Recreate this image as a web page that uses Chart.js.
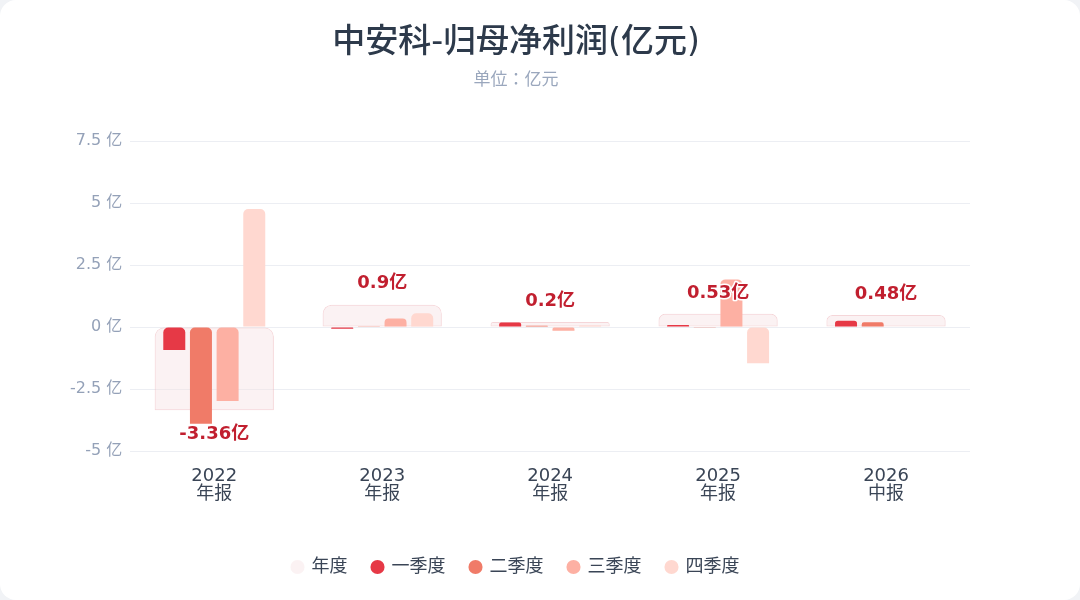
<!DOCTYPE html>
<html>
<head>
<meta charset="utf-8">
<script src="https://cdn.jsdelivr.net/npm/chart.js@4"></script>
<style>
  html, body { margin: 0; padding: 0; background: #f1f3f6; }
  .card { width: 1080px; height: 600px; background: #fff; border-radius: 16px; overflow: hidden; }
  canvas { display: block; }
</style>
</head>
<body>
<div class="card"><canvas id="profitChart" width="1080" height="600"></canvas></div>
<script>
const FONT = "'DejaVu Sans', 'Noto Sans CJK JP', 'Noto Sans CJK SC', sans-serif";

// Data (亿元)
const years = [['2022', '年报'], ['2023', '年报'], ['2024', '年报'], ['2025', '年报'], ['2026', '中报']];
const annual = [-3.36, 0.9, 0.2, 0.53, 0.48];
const q1 = [-0.93, -0.07, 0.18, 0.08, 0.25];
const q2 = [-3.9, 0.01, 0.05, -0.03, 0.19];
const q3 = [-2.98, 0.34, -0.15, 1.92, null];
const q4 = [4.76, 0.55, 0.06, -1.46, null];
const yTicks = [-5, -2.5, 0, 2.5, 5, 7.5];

const quarterColors = ['#e63946', '#f07b68', '#fdb0a3', '#ffd8d0'];
const topRound = { topLeft: 5, topRight: 5, bottomLeft: 0, bottomRight: 0 };

function quarterSet(label, data, color) {
  return {
    label: label,
    data: data,
    backgroundColor: color,
    borderRadius: topRound,
    borderSkipped: false,
    categoryPercentage: 0.635,
    barPercentage: 0.825,
    order: 0
  };
}

// labels above / below the annual bars
const annualLabels = {
  id: 'annualLabels',
  afterDatasetsDraw(chart) {
    const meta = chart.getDatasetMeta(0);
    const c = chart.ctx;
    c.save();
    c.font = 'bold 18px ' + FONT;
    c.textAlign = 'center';
    c.textBaseline = 'middle';
    c.lineJoin = 'round';
    meta.data.forEach((bar, i) => {
      const v = annual[i];
      const y = v >= 0 ? bar.y - 21 : bar.y + 24;
      const txt = v + '亿';
      c.strokeStyle = '#ffffff';
      c.lineWidth = 3;
      c.strokeText(txt, bar.x, y);
      c.fillStyle = '#c11f2f';
      c.fillText(txt, bar.x, y);
    });
    c.restore();
  }
};

const ctx = document.getElementById('profitChart').getContext('2d');
const profitChart = new Chart(ctx, {
  type: 'bar',
  data: {
    labels: years,
    datasets: [
      {
        label: '年度',
        data: annual,
        backgroundColor: 'rgba(246, 226, 229, 0.45)',
        borderColor: 'rgba(236, 180, 186, 0.55)',
        borderWidth: 1,
        borderRadius: { topLeft: 9, topRight: 9, bottomLeft: 0, bottomRight: 0 },
        borderSkipped: false,
        grouped: false,
        categoryPercentage: 0.71,
        barPercentage: 1,
        order: 1
      },
      quarterSet('一季度', q1, quarterColors[0]),
      quarterSet('二季度', q2, quarterColors[1]),
      quarterSet('三季度', q3, quarterColors[2]),
      quarterSet('四季度', q4, quarterColors[3])
    ]
  },
  options: {
    responsive: false,
    animation: false,
    layout: { padding: { left: 62, right: 110, top: 0, bottom: 14 } },
    plugins: {
      title: {
        display: true,
        text: '中安科-归母净利润(亿元)',
        color: '#2d3a4b',
        font: { family: FONT, size: 33, weight: '500' },
        padding: { top: 24, bottom: 7 }
      },
      subtitle: {
        display: true,
        text: '单位：亿元',
        color: '#9aa7bd',
        font: { family: FONT, size: 17 },
        padding: { bottom: 50 }
      },
      legend: {
        position: 'bottom',
        labels: {
          usePointStyle: true,
          pointStyle: 'circle',
          boxWidth: 10,
          boxHeight: 10,
          padding: 25,
          color: '#3a4556',
          font: { family: FONT, size: 18 },
          sort: (a, b) => a.datasetIndex - b.datasetIndex,
          generateLabels: chart => Chart.defaults.plugins.legend.labels.generateLabels(chart)
            .map(item => Object.assign(item, { lineWidth: 0, strokeStyle: 'rgba(0,0,0,0)' }))
        }
      },
      tooltip: { enabled: false }
    },
    scales: {
      x: {
        grid: { display: false },
        border: { display: false },
        ticks: { color: '#3a4556', font: { family: FONT, size: 18, lineHeight: 1.0 }, padding: 8 },
        afterFit: axis => { axis.height += 22; }
      },
      y: {
        min: yTicks[0],
        max: yTicks[yTicks.length - 1],
        afterBuildTicks: axis => { axis.ticks = yTicks.map(v => ({ value: v })); },
        grid: { color: '#eceef3', drawTicks: false },
        border: { display: false },
        ticks: {
          color: '#94a1b8',
          font: { family: FONT, size: 16 },
          padding: 8,
          callback: v => v + ' 亿'
        }
      }
    }
  },
  plugins: [annualLabels]
});
</script>
</body>
</html>
